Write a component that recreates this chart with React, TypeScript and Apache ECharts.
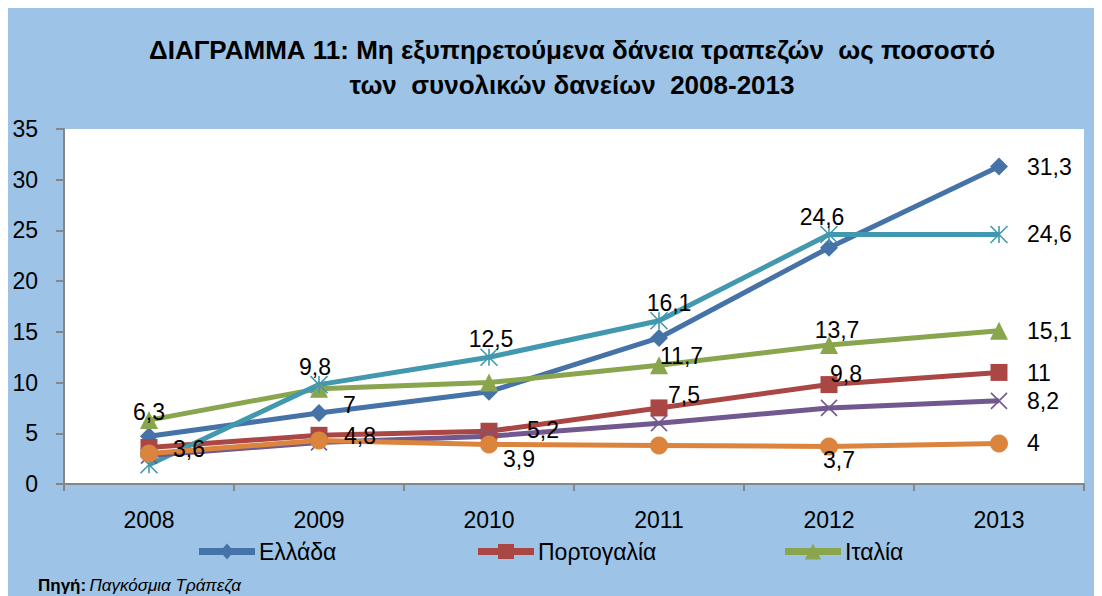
import React, { useEffect, useRef } from "react";
import * as echarts from "echarts";

const years = ["2008", "2009", "2010", "2011", "2012", "2013"];
const greece = [4.7, 7.0, 9.1, 14.4, 23.3, 31.3];
const portugal = [3.6, 4.8, 5.2, 7.5, 9.8, 11.0];
const italy = [6.3, 9.4, 10.0, 11.7, 13.7, 15.1];
const ireland = [1.9, 9.8, 12.5, 16.1, 24.6, 24.6];
const spain = [2.8, 4.1, 4.7, 6.0, 7.5, 8.2];
const france = [3.0, 4.3, 3.9, 3.8, 3.7, 4.0];
const yTicks = [0, 5, 10, 15, 20, 25, 30, 35];

const titleLine1 = "ΔΙΑΓΡΑΜΜΑ 11: Μη εξυπηρετούμενα δάνεια τραπεζών  ως ποσοστό";
const titleLine2 = "των  συνολικών δανείων  2008-2013";

const FONT = "'Liberation Sans', Arial, sans-serif";

type Place = [number, number, number, "left" | "center"];

// label placements: [index, dx, dy, align]
const placeGreece: Place[] = [[1, 24, -8, "left"], [5, 28, 0, "left"]];
const placePortugal: Place[] = [
  [0, 24, 2, "left"], [1, 25, 1, "left"], [2, 38, -1, "left"],
  [3, 9, -13, "left"], [4, 1, -11, "left"], [5, 28, 1, "left"],
];
const placeItaly: Place[] = [[0, 0, -8, "center"], [3, 1, -9, "left"], [4, 8, -15, "center"], [5, 28, 0, "left"]];
const placeIreland: Place[] = [[1, -4, -18, "center"], [2, 2, -18, "center"], [3, 10, -18, "center"], [4, -7, -17, "center"], [5, 28, 0, "left"]];
const placeSpain: Place[] = [[5, 28, 0, "left"]];
const placeFrance: Place[] = [[2, 14, 15, "left"], [4, 10, 14, "center"], [5, 28, 0, "left"]];

const fmt = (v: number) => String(v).replace(".", ",");

function buildData(values: number[], places: Place[]) {
  return values.map((v, i) => {
    const p = places.find((q) => q[0] === i);
    if (!p) return { value: v };
    return {
      value: v,
      label: {
        show: true,
        position: "inside",
        offset: [p[1], p[2]],
        align: p[3],
        verticalAlign: "middle",
        formatter: () => fmt(v),
        color: "#000",
        fontSize: 23,
        fontFamily: FONT,
        textBorderWidth: 0,
      },
    };
  });
}

const STAR = "path://M0,0L20,20M20,0L0,20M10,0L10,20";
const CROSS = "path://M0,0L20,20M20,0L0,20";

const ICON_DIAMOND = "path://M0,4.5H56V11.5H0Z M28,0L35,8L28,16L21,8Z";
const ICON_SQUARE = "path://M0,4.5H56V11.5H0Z M20,0.5H36V15.5H20Z";
const ICON_TRIANGLE = "path://M0,4.5H56V11.5H0Z M28,0L36,16L20,16Z";

function lineSeries(name: string, values: number[], places: Place[], color: string, symbol: string, size: number, stroke = false) {
  return {
    type: "line",
    name,
    data: buildData(values, places),
    symbol,
    symbolSize: size,
    lineStyle: { color, width: 5 },
    itemStyle: stroke
      ? { color: "rgba(0,0,0,0)", borderColor: color, borderWidth: 1.6 }
      : { color, borderWidth: 0 },
    label: { show: false },
    emphasis: { disabled: true },
  };
}

export default function App() {
  const ref = useRef<HTMLDivElement>(null);
  useEffect(() => {
    if (!ref.current) return;
    const chart = echarts.init(ref.current, undefined, { renderer: "svg" });
    const legendBase = {
      top: 532,
      itemWidth: 56,
      itemHeight: 16,
      itemGap: 4,
      padding: 0,
      textStyle: { color: "#000", fontSize: 23, fontFamily: FONT, padding: [0, 0, 0, -1] },
    };
    chart.setOption({
      animation: false,
      backgroundColor: "#9DC3E6",
      grid: { left: 56, top: 121, right: 18, bottom: 112, show: true, backgroundColor: "#FFFFFF", borderWidth: 0 },
      legend: [
        { ...legendBase, left: 191, data: [{ name: "Ελλάδα", icon: ICON_DIAMOND }] },
        { ...legendBase, left: 470, data: [{ name: "Πορτογαλία", icon: ICON_SQUARE }] },
        { ...legendBase, left: 777, data: [{ name: "Ιταλία", icon: ICON_TRIANGLE }] },
      ],
      xAxis: {
        type: "category",
        data: years,
        boundaryGap: true,
        axisLine: { show: true, lineStyle: { color: "#868686", width: 2 } },
        axisTick: { show: true, length: 7, lineStyle: { color: "#868686", width: 2 } },
        axisLabel: { color: "#000", fontSize: 23, fontFamily: FONT, margin: 24 },
        splitLine: { show: false },
      },
      yAxis: {
        type: "value",
        min: yTicks[0],
        max: yTicks[yTicks.length - 1],
        interval: 5,
        axisLine: { show: true, lineStyle: { color: "#868686", width: 2 } },
        axisTick: { show: true, length: 8, lineStyle: { color: "#868686", width: 2 } },
        axisLabel: { color: "#000", fontSize: 23, fontFamily: FONT, margin: 26 },
        splitLine: { show: false },
      },
      graphic: [
        { type: "text", x: 564, y: 42, style: { text: titleLine1, align: "center", verticalAlign: "middle", fontSize: 26, fontWeight: "bold", fontFamily: FONT, fill: "#000" } },
        { type: "text", x: 564, y: 77, style: { text: titleLine2, align: "center", verticalAlign: "middle", fontSize: 26, fontWeight: "bold", fontFamily: FONT, fill: "#000" } },
        {
          type: "text", x: 30, y: 577,
          style: {
            text: "{b|Πηγή:} {i|Παγκόσμια Τράπεζα}",
            verticalAlign: "middle",
            fill: "#000",
            rich: {
              b: { fontSize: 17, fontWeight: "bold", fontFamily: FONT, fill: "#000" },
              i: { fontSize: 17, fontStyle: "italic", fontFamily: FONT, fill: "#000" },
            },
          },
        },
      ],
      series: [
        lineSeries("Ελλάδα", greece, placeGreece, "#4572A7", "diamond", 18),
        lineSeries("Πορτογαλία", portugal, placePortugal, "#AA4643", "rect", 17),
        lineSeries("Ιταλία", italy, placeItaly, "#89A54E", "triangle", 18),
        lineSeries("Ιρλανδία", ireland, placeIreland, "#4198AF", STAR, 17, true),
        lineSeries("Ισπανία", spain, placeSpain, "#71588F", CROSS, 16, true),
        lineSeries("Γαλλία", france, placeFrance, "#DB843D", "circle", 18),
      ],
    });
    return () => chart.dispose();
  }, []);
  return <div ref={ref} style={{ width: 1094, height: 588 }} />;
}
